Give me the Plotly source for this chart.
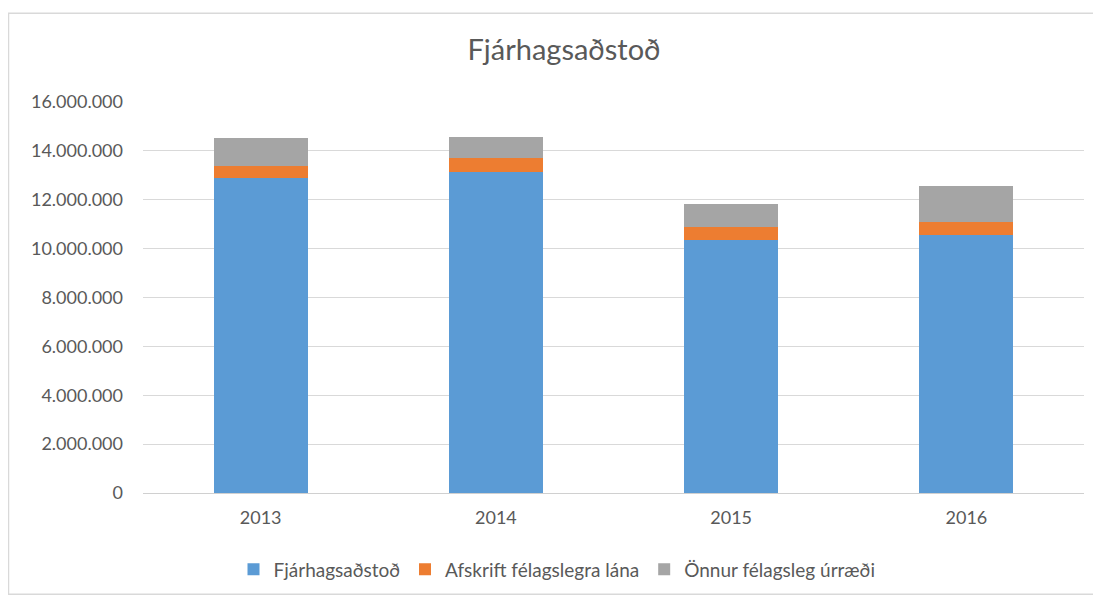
import plotly.graph_objects as go

years = ["2013", "2014", "2015", "2016"]
fjarhagsadstod = [12900000, 13130000, 10360000, 10550000]
afskrift = [470000, 590000, 520000, 540000]
onnur = [1150000, 860000, 930000, 1490000]

series_names = ["Fjárhagsaðstoð", "Afskrift félagslegra lána", "Önnur félagsleg úrræði"]
colors = ["#5b9bd5", "#ed7d31", "#a5a5a5"]

tick_vals = [0, 2000000, 4000000, 6000000, 8000000, 10000000, 12000000, 14000000, 16000000]
tick_text = ["0", "2.000.000", "4.000.000", "6.000.000", "8.000.000",
             "10.000.000", "12.000.000", "14.000.000", "16.000.000"]

FONT = "Lato, Open Sans, sans-serif"
TXT = "#595959"

fig = go.Figure()
for name, vals, col in zip(series_names, [fjarhagsadstod, afskrift, onnur], colors):
    fig.add_trace(go.Bar(x=years, y=vals, name=name, marker=dict(color=col, line=dict(width=0))))

OFF = 8  # page body margin
W, H = 1101 - OFF, 601 - OFF
ml = 143 - OFF
mt = 102 - OFF
mr = W - (1084 - OFF)
mb = H - (496 - OFF)
pw = W - ml - mr
ph = H - mt - mb

def px_to_paper_x(px):
    return (px - OFF - ml) / pw

def py_to_paper_y(py):
    return (H - mb - (py - OFF)) / ph

fig.update_layout(
    width=W, height=H,
    barmode="stack", bargap=0.6,
    margin=dict(l=ml, r=mr, t=mt, b=mb),
    paper_bgcolor="white", plot_bgcolor="white",
    font=dict(family=FONT, color=TXT, size=18),
    title=dict(text="Fjárhagsaðstoð", x=px_to_paper_x(564), xref="paper", xanchor="center",
               y=(H - (50 - OFF)) / H, yanchor="middle", font=dict(size=29, color=TXT, family=FONT)),
    xaxis=dict(showgrid=False, showline=False, ticks="", ticklabelstandoff=12,
               tickfont=dict(size=18, color=TXT)),
    yaxis=dict(range=[0, 16000000], tickvals=tick_vals, ticktext=tick_text,
               showgrid=True, gridcolor="#d9d9d9", gridwidth=1, zeroline=True,
               zerolinecolor="#d0d0d0", zerolinewidth=1, showline=False, ticks="",
               ticklabelstandoff=19, tickfont=dict(size=18, color=TXT)),
    legend=dict(orientation="h", x=px_to_paper_x(557), xanchor="center",
                y=py_to_paper_y(573), yanchor="middle", font=dict(size=19, color=TXT),
                traceorder="normal", itemwidth=30),
    shapes=[dict(type="rect", xref="paper", yref="paper",
                 x0=px_to_paper_x(8.5), x1=px_to_paper_x(1100), y0=py_to_paper_y(598), y1=py_to_paper_y(12.5),
                 line=dict(color="#d9d9d9", width=1.5), layer="below")],
)

fig.write_html("out.html")
